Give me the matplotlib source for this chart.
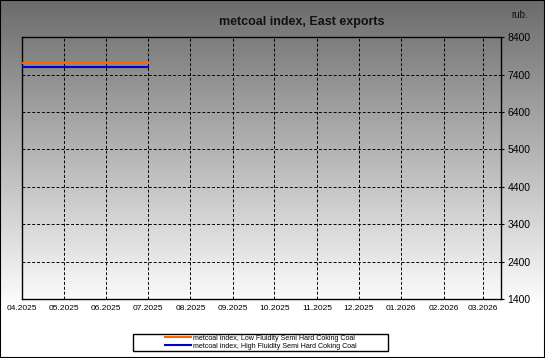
"""
plot.py – metcoal index, East exports (Nachbau des Referenzcharts)
"""

from datetime import datetime

import numpy as np
import matplotlib
matplotlib.use("Agg")
import matplotlib.pyplot as plt
import matplotlib.dates as mdates
from matplotlib.patches import Rectangle

plt.rcParams["font.family"] = ["Liberation Sans", "DejaVu Sans"]

# Daten
dates = [datetime(2025, 4, 1), datetime(2025, 5, 1), datetime(2025, 6, 1), datetime(2025, 7, 1)]
low_fluidity = [7720, 7720, 7720, 7720]
high_fluidity = [7610, 7610, 7610, 7610]

series_labels = [
    "metcoal index, Low Fluidity Semi Hard Coking Coal",
    "metcoal index, High Fluidity Semi Hard Coking Coal",
]
month_ticks = [datetime(2025, m, 1) for m in range(4, 13)] + [datetime(2026, m, 1) for m in range(1, 4)]
y_ticks = [1400, 2400, 3400, 4400, 5400, 6400, 7400, 8400]
x_range = (datetime(2025, 4, 1), datetime(2026, 3, 14))

title = "metcoal index, East exports"
unit = "rub."

ORANGE = "#FF6600"
BLUE = "#0000CC"

fig = plt.figure(figsize=(5.45, 3.58), dpi=100)

# Hintergrund: Verlauf grau -> weiss
bg = fig.add_axes([0, 0, 1, 1], zorder=-10)
grad = np.clip(np.linspace(0.42, 1.09, 358), 0, 1)
bg.imshow(np.tile(grad[:, None], (1, 2)), cmap="gray", vmin=0, vmax=1,
          aspect="auto", extent=[0, 1, 0, 1], origin="upper")
bg.set_axis_off()

ax = fig.add_axes([22.3 / 545, 1 - 299 / 358, (500.5 - 22.3) / 545, (299 - 37.3) / 358])
ax.patch.set_alpha(0)

ax.plot(dates, low_fluidity, color=ORANGE, linewidth=1.5, label=series_labels[0], zorder=3)
ax.plot(dates, high_fluidity, color=BLUE, linewidth=1.5, label=series_labels[1], zorder=3)

ax.set_xlim(*x_range)
ax.set_ylim(y_ticks[0], y_ticks[-1])
ax.set_xticks(month_ticks)
ax.xaxis.set_major_formatter(mdates.DateFormatter("%m.%Y"))
ax.set_yticks(y_ticks)

ax.yaxis.tick_right()
ax.tick_params(axis="y", direction="out", length=2.5, width=0.8, pad=2.5, labelsize=7.5, colors="black")
ax.tick_params(axis="x", length=0, pad=4, labelsize=6)

ax.grid(True, color="black", linestyle=(0, (3, 2)), linewidth=0.7)
for spine in ax.spines.values():
    spine.set_color("black")
    spine.set_linewidth(1.0)

fig.text(302 / 545, 1 - 22.5 / 358, title, ha="center", va="center",
         fontsize=9, fontweight="bold", color="#111111")
fig.text(520 / 545, 1 - 15 / 358, unit, ha="center", va="center", fontsize=7, color="#111111")

# Legende: eigener Rahmen, Inhalt zentriert
fig.patches.append(Rectangle((133 / 545, 1 - 350.5 / 358), (388 - 133) / 545, 16.5 / 358,
                             transform=fig.transFigure, facecolor="white",
                             edgecolor="black", linewidth=1.0, zorder=5))
leg = fig.legend(loc="center", bbox_to_anchor=(261 / 545, 1 - 342.3 / 358),
                 frameon=False, fontsize=5.1, handlelength=3.6, handletextpad=0.3,
                 labelspacing=0.15, borderpad=0)
leg.set_zorder(6)

# Rahmen um die ganze Grafik
fig.patches.append(Rectangle((0, 0), 1, 1, transform=fig.transFigure, fill=False,
                             edgecolor="black", linewidth=1.5, zorder=10))

fig.savefig("out.png", dpi=100)
plt.close(fig)
